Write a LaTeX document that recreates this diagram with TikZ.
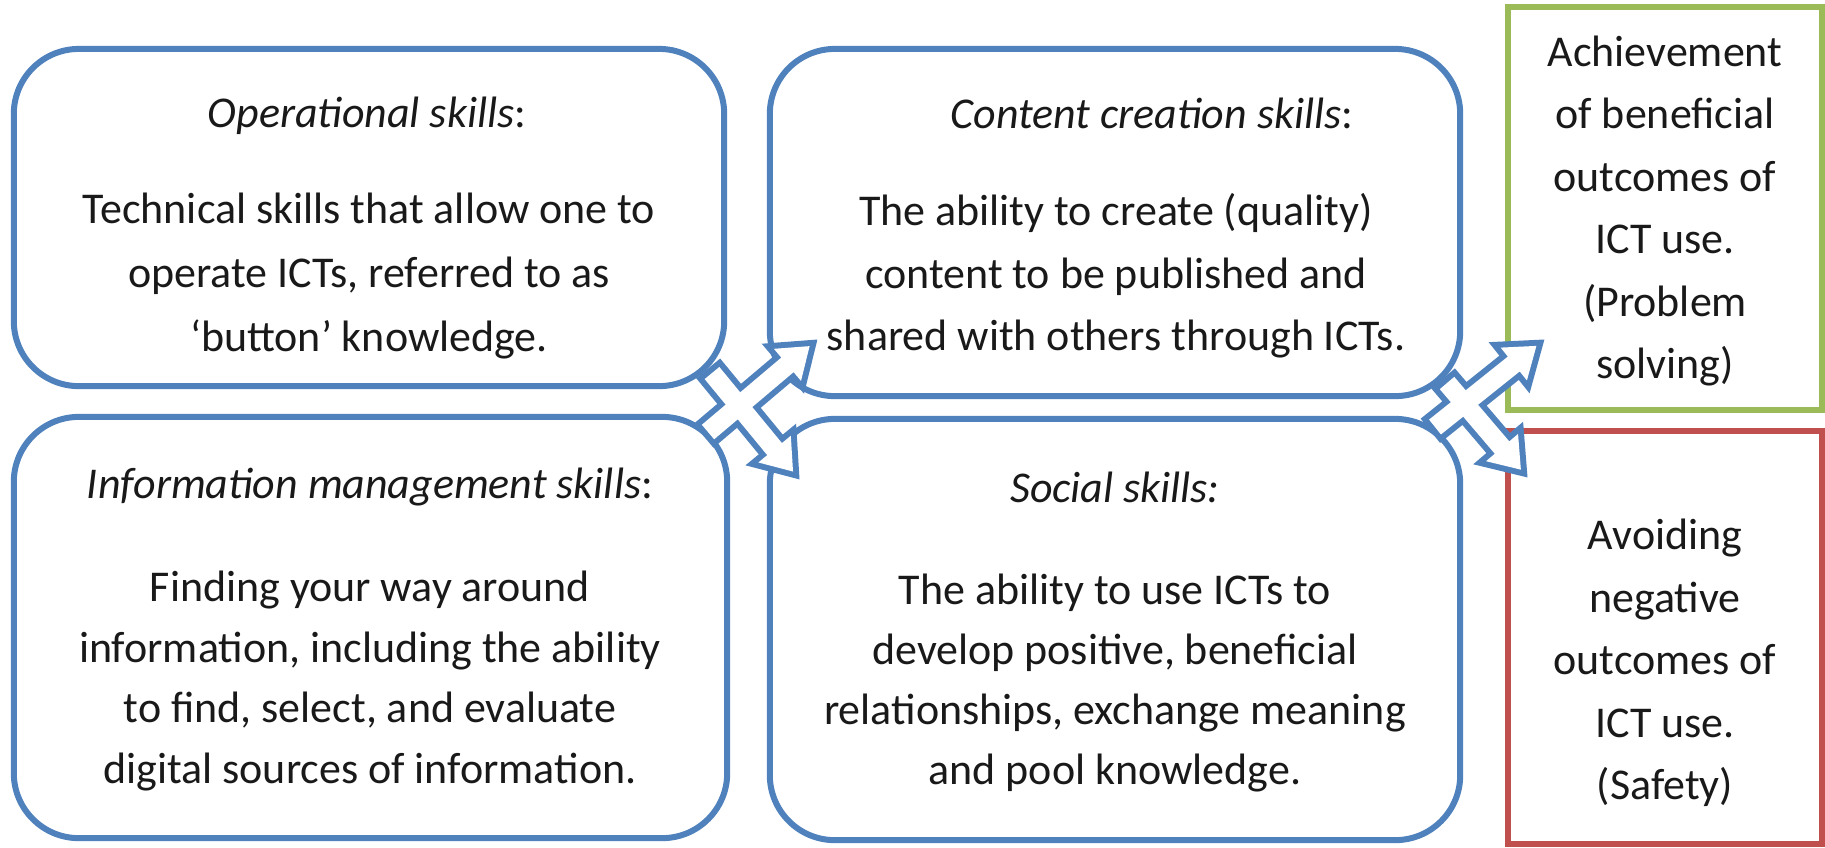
\documentclass[tikz,border=0pt]{standalone}
\usepackage{fontspec}
\setmainfont{Carlito}
\usetikzlibrary{calc}
\definecolor{boxblue}{HTML}{4F81BD}
\definecolor{boxgreen}{HTML}{9BBB59}
\definecolor{boxred}{HTML}{C0504D}
\def\arSW{0.095cm}
\def\arHW{0.21cm}
\def\arHL{0.40cm}
\def\arTB{0.11cm}
\newcommand{\mkblockarrow}[3]{%
  \coordinate (#1b) at ($(#3)!\arHL!(#2)$);
  \coordinate (#1p) at ($(#3)!\arTB!(#2)$);
  \coordinate (#1t1) at ($(#2)!\arSW!90:(#3)$);
  \coordinate (#1t2) at ($(#2)!\arSW!-90:(#3)$);
  \coordinate (#1s1) at ($(#1b)!\arSW!90:(#3)$);
  \coordinate (#1s2) at ($(#1b)!\arSW!-90:(#3)$);
  \coordinate (#1h1) at ($(#1b)!\arHW!90:(#3)$);
  \coordinate (#1h2) at ($(#1b)!\arHW!-90:(#3)$);
}
\newcommand{\blockarrowpath}[1]{(#1t1) -- (#1s1) -- (#1h1) -- (#1p) -- (#1h2) -- (#1s2) -- (#1t2) -- cycle}
\begin{document}
\begin{tikzpicture}[x=0.01cm,y=-0.01cm,
  skillbox/.style={draw=boxblue, line width=0.06cm, rounded corners=0.65cm, fill=white, inner sep=0},
  outbox/.style={line width=0.06cm, fill=white, inner sep=0},
  txt/.style={align=center, inner sep=0, text=black!90, font=\fontsize{12.5pt}{18.2pt}\selectfont},
  arrowline/.style={draw=boxblue, line width=0.12cm, line join=miter},
  arrowfill/.style={fill=white}]
\useasboundingbox (0,0) rectangle (1825,847);

% boxes
\node[skillbox, minimum width=7.10cm, minimum height=3.37cm] (op) at (369,217.5) {};
\node[skillbox, minimum width=7.13cm, minimum height=4.21cm] (im) at (370.5,627.5) {};
\node[skillbox, minimum width=6.90cm, minimum height=3.47cm] (cc) at (1115,222.5) {};
\node[skillbox, minimum width=6.90cm, minimum height=4.21cm] (so) at (1115,629.5) {};
\node[outbox, draw=boxgreen, minimum width=3.14cm, minimum height=4.03cm] (ach) at (1665,208.5) {};
\node[outbox, draw=boxred, minimum width=3.14cm, minimum height=4.13cm] (avo) at (1665,637.5) {};

% texts
\node[txt] (optitle) at (367,116) {\textit{Operational skills}:};
\node[txt] (opbody) at (369,276) {Technical skills that allow one to\\operate ICTs, referred to as\\‘button’ knowledge.};

\node[txt] (imtitle) at (370,487) {\textit{Information management skills}:};
\node[txt, font=\fontsize{12.5pt}{17.3pt}\selectfont] (imbody) at (370,681) {Finding your way around\\information, including the ability\\to find, select, and evaluate\\digital sources of information.};

\node[txt] (cctitle) at (1152,113) {\textit{Content creation skills}:};
\node[txt, font=\fontsize{12.5pt}{17.8pt}\selectfont] (ccbody) at (1116,276) {The ability to create (quality)\\content to be published and\\shared with others through ICTs.};

\node[txt] (sotitle) at (1115,487) {\textit{Social skills:}};
\node[txt, font=\fontsize{12.5pt}{17.0pt}\selectfont] (sobody) at (1115,683) {The ability to use ICTs to\\develop positive, beneficial\\relationships, exchange meaning\\and pool knowledge.};

\node[txt, font=\fontsize{12.5pt}{17.8pt}\selectfont] (achtext) at (1665,211) {Achievement\\of beneficial\\outcomes of\\ICT use.\\(Problem\\solving)};
\node[txt, font=\fontsize{12.5pt}{17.8pt}\selectfont] (avotext) at (1665,663) {Avoiding\\negative\\outcomes of\\ICT use.\\(Safety)};

% block arrows
\coordinate (a1tail) at (708,432); \coordinate (a1tip) at (818,339);
\coordinate (a2tail) at (712,373); \coordinate (a2tip) at (800,480);
\coordinate (b1tail) at (1435,427); \coordinate (b1tip) at (1545,339);
\coordinate (b2tail) at (1447,383); \coordinate (b2tip) at (1528,478);
\mkblockarrow{A}{a1tail}{a1tip}
\mkblockarrow{B}{a2tail}{a2tip}
\mkblockarrow{C}{b1tail}{b1tip}
\mkblockarrow{D}{b2tail}{b2tip}
\draw[arrowline] \blockarrowpath{A} \blockarrowpath{B};
\fill[arrowfill] \blockarrowpath{A};
\fill[arrowfill] \blockarrowpath{B};
\draw[arrowline] \blockarrowpath{C} \blockarrowpath{D};
\fill[arrowfill] \blockarrowpath{C};
\fill[arrowfill] \blockarrowpath{D};
\end{tikzpicture}
\end{document}
